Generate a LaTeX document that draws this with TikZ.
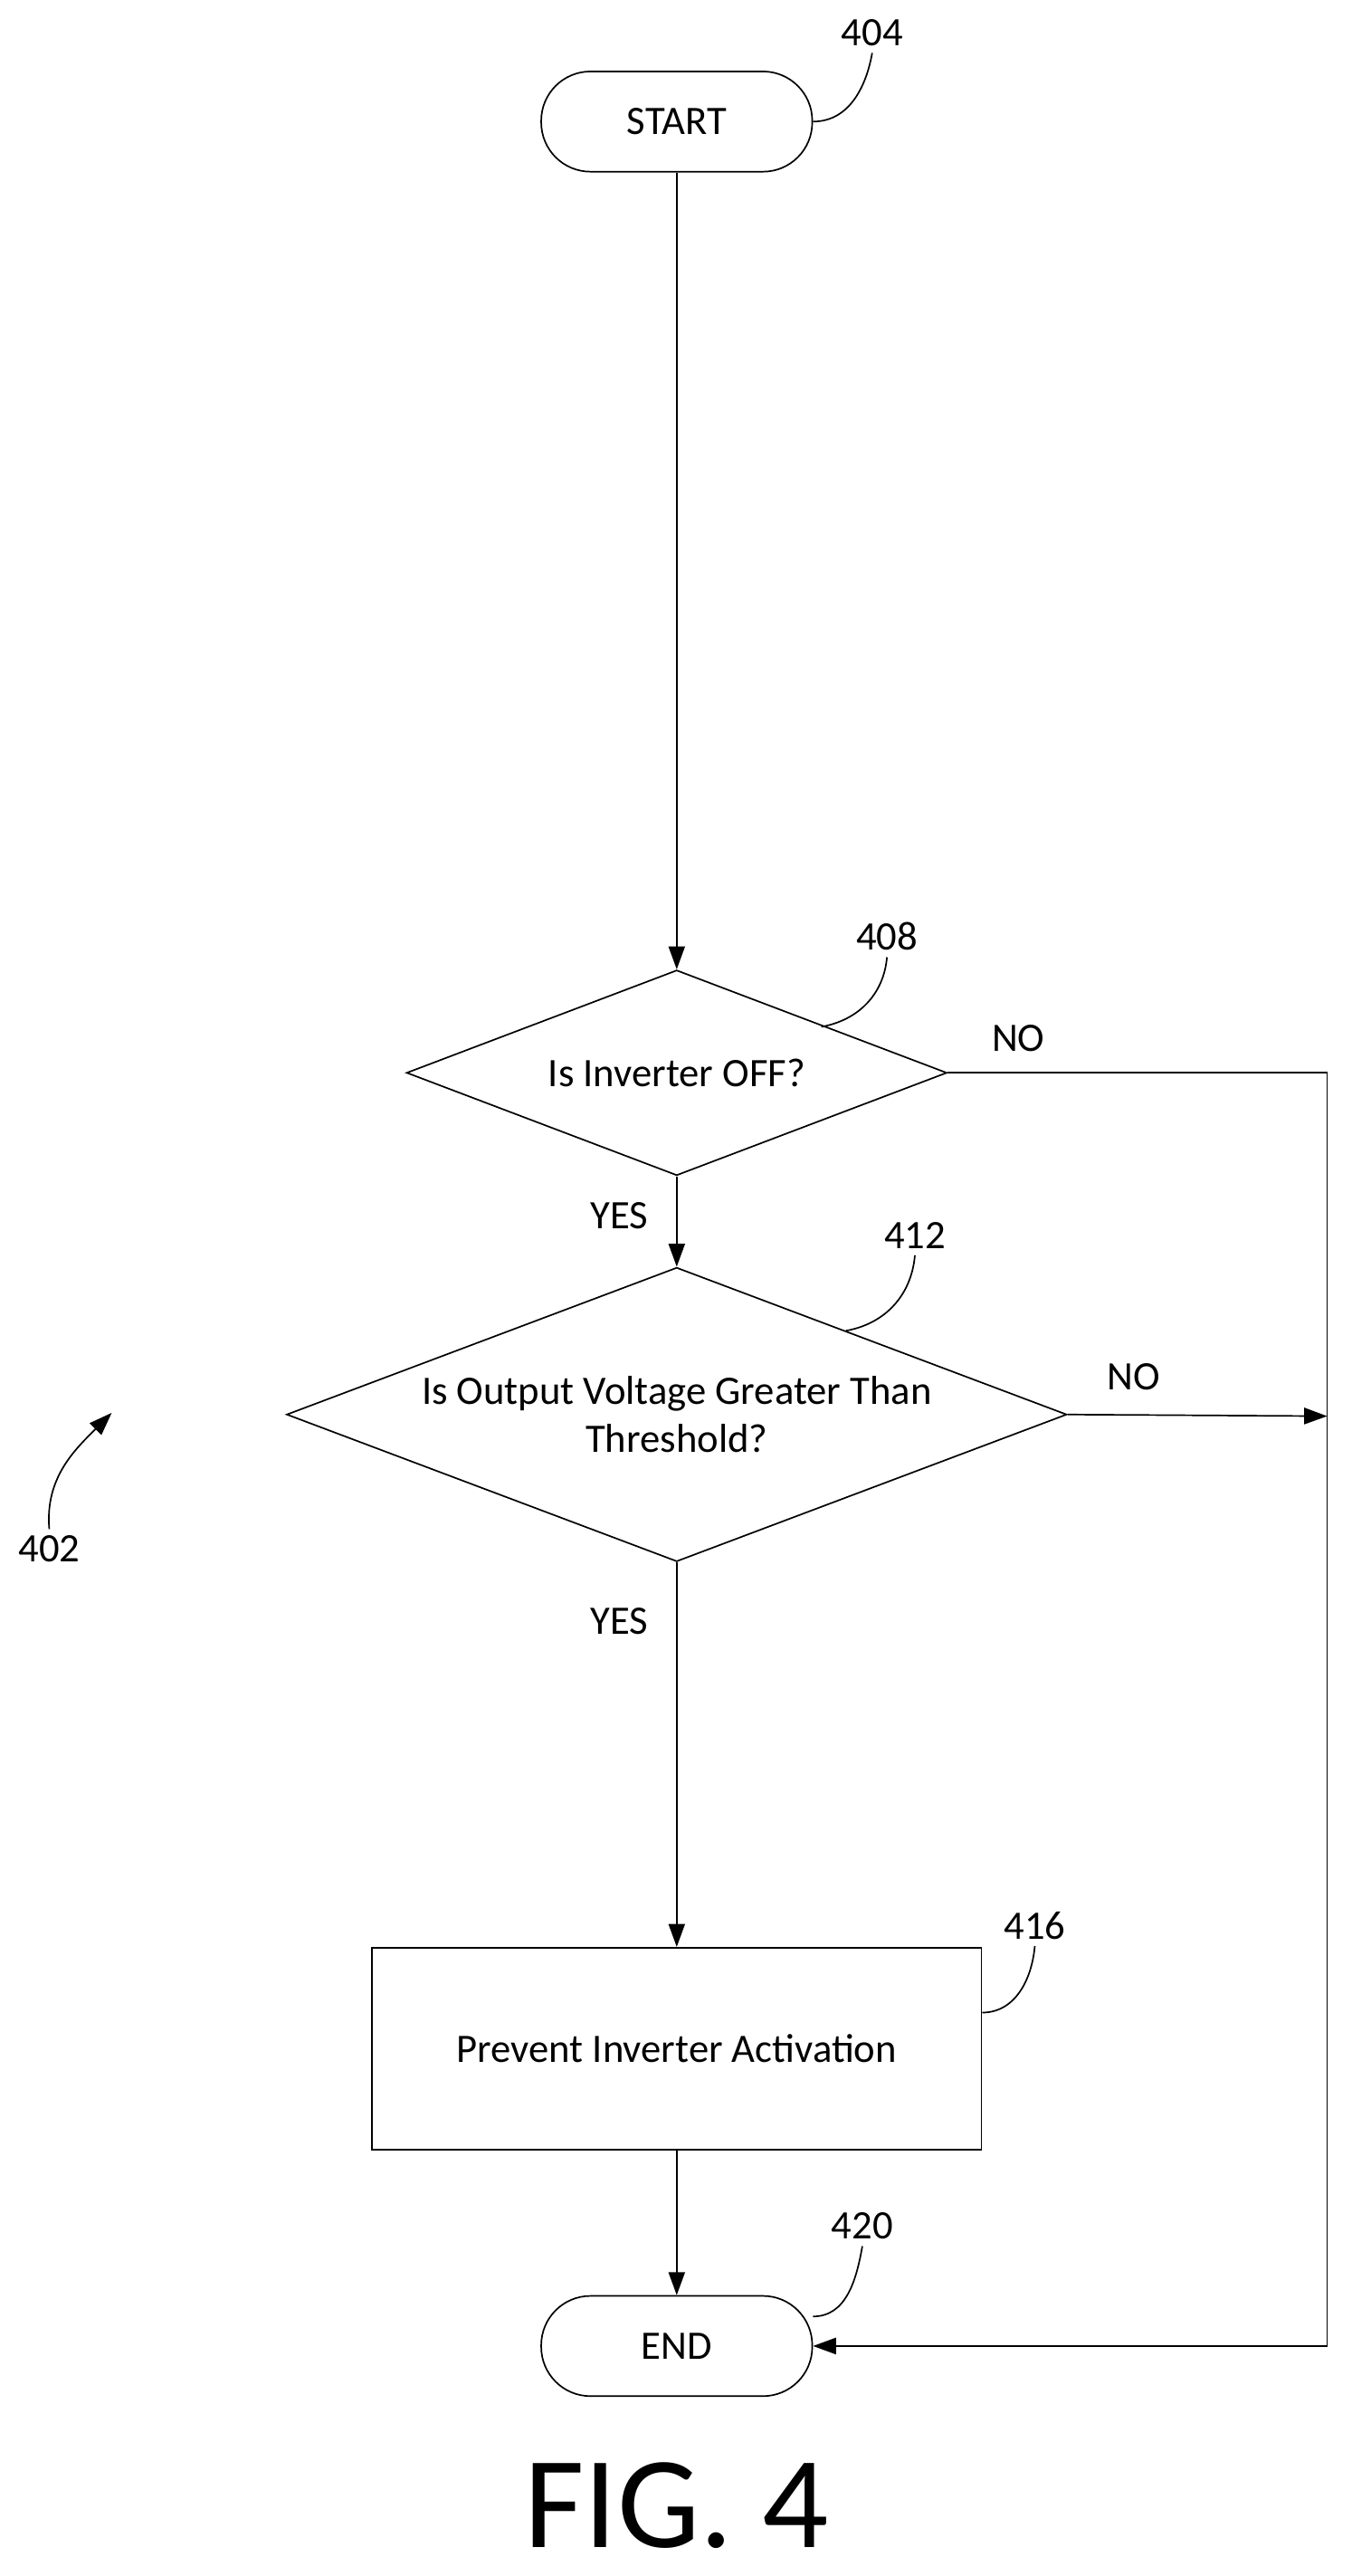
\documentclass[tikz,border=0pt]{standalone}
\usepackage{fontspec}
\setmainfont{Carlito}
\usetikzlibrary{shapes.geometric,arrows.meta}
\tikzset{
terminalnode/.style={rectangle, rounded corners=0.9cm, draw=black, thick, minimum width=4.95cm, minimum height=1.83cm, font=\fontsize{21}{24}\selectfont},
decisionnode/.style={diamond, draw=black, thick, inner sep=0pt, align=center, font=\fontsize{21}{25}\selectfont},
processnode/.style={rectangle, draw=black, thick, minimum width=11.13cm, minimum height=3.69cm, font=\fontsize{21}{24}\selectfont},
refnum/.style={font=\fontsize{21}{24}\selectfont},
flowarrow/.style={thick, -{Triangle[length=0.42cm,width=0.3cm]}},
}
\begin{document}
\begin{tikzpicture}[x=0.03cm,y=-0.03cm]
    \useasboundingbox (0,0) rectangle (823,1568);
    \node[terminalnode] at (412,74) (start) {START};
    \node[decisionnode, aspect=2.63, minimum width=9.87cm, minimum height=3.75cm] at (412,653) (offq) {Is Inverter OFF?};
    \node[decisionnode, aspect=2.65, minimum width=14.25cm, minimum height=5.37cm] at (412,861) (voltq) {Is Output Voltage Greater Than\\Threshold?};
    \node[processnode] at (412,1247) (prevent) {Prevent Inverter Activation};
    \node[terminalnode] at (412,1428) (finish) {END};
    \coordinate (rail) at (808,653);
    \coordinate (railmid) at (808,862);
    \node[refnum] at (620,632) {NO};
    \node[refnum] at (377,740) {YES};
    \node[refnum] at (690,838) {NO};
    \node[refnum] at (377,987) {YES};
     \draw[flowarrow] (start) to (offq);
     \draw[flowarrow] (offq) to (voltq);
     \draw[flowarrow] (voltq) to (prevent);
     \draw[flowarrow] (prevent) to (finish);
     \draw[thick] (offq.east) -- (rail);
     \draw[flowarrow] (rail) |- (finish.east);
     \draw[flowarrow] (voltq.east) -- (railmid);
    % reference numbers
    \node[refnum] at (531,20) (n404) {404};
    \node[refnum] at (540,570) (n408) {408};
    \node[refnum] at (557,752) (n412) {412};
    \node[refnum] at (630,1172) (n416) {416};
    \node[refnum] at (525,1355) (n420) {420};
    \node[refnum] at (30,943) (n402) {402};
    \node[font=\fontsize{68}{70}\selectfont] at (412,1525) (fig) {FIG. 4};
     \draw[thick] (start.east) to[out=0,in=-100] (n404.south);
     \draw[thick] (500,625) to[out=10,in=-95] (n408.south);
     \draw[thick] (515,810) to[out=10,in=-95] (n412.south);
     \draw[thick] (prevent.north east) ++(0,40) coordinate (p416) to[out=0,in=-95] (n416.south);
     \draw[thick] (495,1410) to[out=0,in=-100] (n420.south);
     \draw[flowarrow] (n402.north) to[out=95,in=-135] (68,860);
\end{tikzpicture}
\end{document}
